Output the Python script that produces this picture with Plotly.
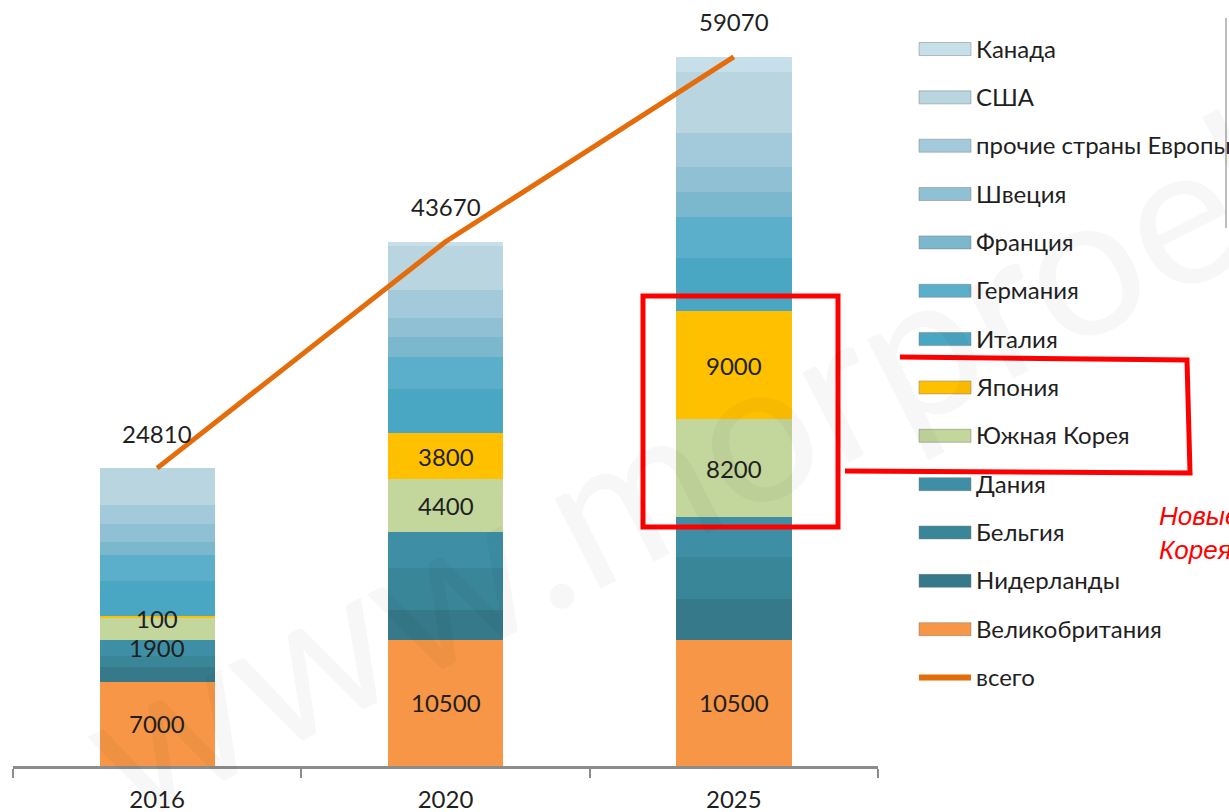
import plotly.graph_objects as go

# Categories (years) and stacked series values, bottom of the stack first
years = ["2016", "2020", "2025"]

uk = [7000, 10500, 10500]          # Великобритания
netherlands = [1250, 2500, 3400]   # Нидерланды
belgium = [920, 3500, 3500]        # Бельгия
denmark = [1300, 3000, 3300]       # Дания
korea = [1900, 4400, 8200]         # Южная Корея
japan = [100, 3800, 9000]          # Япония
italy = [2950, 3700, 4400]         # Италия
germany = [2150, 2650, 3400]       # Германия
france = [1050, 1650, 2100]        # Франция
sweden = [1500, 1650, 2100]        # Швеция
other_europe = [1650, 2300, 2850]  # прочие страны Европы
usa = [3040, 3700, 5100]           # США
canada = [0, 320, 1220]            # Канада

series = [
    ("Великобритания", uk, "#F79646"),
    ("Нидерланды", netherlands, "#35798A"),
    ("Бельгия", belgium, "#3A8699"),
    ("Дания", denmark, "#3E8FA6"),
    ("Южная Корея", korea, "#C3D69B"),
    ("Япония", japan, "#FFC000"),
    ("Италия", italy, "#4AA7C3"),
    ("Германия", germany, "#5CAFCA"),
    ("Франция", france, "#7BB8CE"),
    ("Швеция", sweden, "#8FC0D3"),
    ("прочие страны Европы", other_europe, "#A3CADA"),
    ("США", usa, "#B8D5E0"),
    ("Канада", canada, "#C7DFE8"),
]
labelled = ["Великобритания", "Южная Корея", "Япония"]
total_name = "всего"
total_color = "#E46C0A"

totals = [sum(s[1][i] for s in series) for i in range(len(years))]

FONT = "Lato, 'Open Sans', sans-serif"
TXT = "#1f1f1f"

# plot-area geometry (pixels) used for overlay shapes and the custom legend
W_FIG, H_FIG = 1229, 812
L, R_EDGE, T, B = 13, 878, 20, 766
YMAX = 62140


def px(xp):
    return (xp - L) / (R_EDGE - L)


def py(yp):
    return (B - yp) / (B - T)


fig = go.Figure()

for name, vals, color in series:
    fig.add_trace(go.Bar(
        x=years, y=vals, name=name, marker=dict(color=color, line=dict(width=0)),
        showlegend=False, hoverinfo="name+y",
    ))

fig.add_trace(go.Scatter(
    x=years, y=totals, mode="lines", name=total_name,
    line=dict(color=total_color, width=5), showlegend=False,
))

annotations = []

# site watermark (drawn first so it stays beneath the labels)
annotations.append(dict(
    xref="paper", yref="paper", x=px(839), y=py(381), xanchor="center",
    yanchor="middle", text="www.morproekt.ru", showarrow=False, textangle=-27,
    font=dict(family=FONT, size=200, color="rgba(0,0,0,0.032)"),
))

# value labels inside the highlighted segments
label_shift = {("Южная Корея", 0): -19, ("Япония", 0): -2}
base = [0] * len(years)
for name, vals, color in series:
    for i, v in enumerate(vals):
        if name in labelled:
            annotations.append(dict(
                x=i, y=base[i] + v / 2, text=str(v), showarrow=False,
                xanchor="center", yanchor="middle",
                yshift=label_shift.get((name, i), 0),
                font=dict(family=FONT, size=24, color=TXT),
            ))
        base[i] += v

# total labels above the line
for i, t in enumerate(totals):
    annotations.append(dict(
        x=i, y=t, text=str(t), showarrow=False, yshift=35,
        xanchor="center", yanchor="middle",
        font=dict(family=FONT, size=24, color=TXT),
    ))

# custom legend: top entry is the top of the stack
shapes = []
legend_items = [(n, c) for n, _, c in reversed(series)]
y0_leg, dy_leg = 49, 48.35
for k, (name, color) in enumerate(legend_items):
    yc = y0_leg + k * dy_leg
    shapes.append(dict(
        type="rect", xref="paper", yref="paper",
        x0=px(919), x1=px(971), y0=py(yc + 6.5), y1=py(yc - 6.5),
        fillcolor=color, line=dict(color="rgba(120,120,120,0.45)", width=1),
    ))
    annotations.append(dict(
        xref="paper", yref="paper", x=px(974), y=py(yc - 1), xanchor="left",
        yanchor="middle", text=name, showarrow=False,
        font=dict(family=FONT, size=24, color=TXT),
    ))
yc = y0_leg + len(legend_items) * dy_leg
shapes.append(dict(
    type="line", xref="paper", yref="paper",
    x0=px(919), x1=px(971), y0=py(yc), y1=py(yc),
    line=dict(color=total_color, width=6),
))
annotations.append(dict(
    xref="paper", yref="paper", x=px(974), y=py(yc - 1), xanchor="left",
    yanchor="middle", text=total_name, showarrow=False,
    font=dict(family=FONT, size=24, color=TXT),
))

# red callout frame around the new markets
red = "#FF0000"
shapes.append(dict(
    type="rect", xref="paper", yref="paper",
    x0=px(643), x1=px(838), y0=py(527), y1=py(296),
    line=dict(color=red, width=5), fillcolor="rgba(0,0,0,0)", layer="above",
))
shapes.append(dict(
    type="path", xref="paper", yref="paper",
    path=(f"M {px(900)},{py(357)} L {px(1187)},{py(360)} "
          f"L {px(1190)},{py(473)} L {px(845)},{py(471)}"),
    line=dict(color=red, width=5), layer="above",
))
annotations.append(dict(
    xref="paper", yref="paper", x=px(1157), y=py(533), xanchor="left",
    yanchor="middle", align="left", showarrow=False,
    text="<i>Новые рынки</i><br><i>Корея</i>",
    font=dict(family="Liberation Sans, Arial, sans-serif", size=26, color=red),
))

# thin frame edge at the right side
shapes.append(dict(
    type="line", xref="paper", yref="paper",
    x0=px(1226), x1=px(1226), y0=py(18), y1=py(228),
    line=dict(color="#BDBDBD", width=2),
))

fig.update_layout(
    width=W_FIG, height=H_FIG,
    margin=dict(l=L, r=W_FIG - R_EDGE, t=T, b=H_FIG - B),
    barmode="stack", bargap=0.6,
    paper_bgcolor="white", plot_bgcolor="white",
    annotations=annotations, shapes=shapes,
    showlegend=False,
    xaxis=dict(
        type="category", range=[-0.5, 2.5], showline=True, linecolor="#8C8C8C",
        linewidth=2.5, ticks="outside", tickson="boundaries", ticklen=9,
        tickwidth=2, tickcolor="#8C8C8C", showgrid=False, zeroline=False,
        automargin=False,
        tickfont=dict(family=FONT, size=24, color=TXT), ticklabelstandoff=10,
    ),
    yaxis=dict(visible=False, range=[0, YMAX], showgrid=False, zeroline=False,
               automargin=False),
)

fig.write_html("out.html")
